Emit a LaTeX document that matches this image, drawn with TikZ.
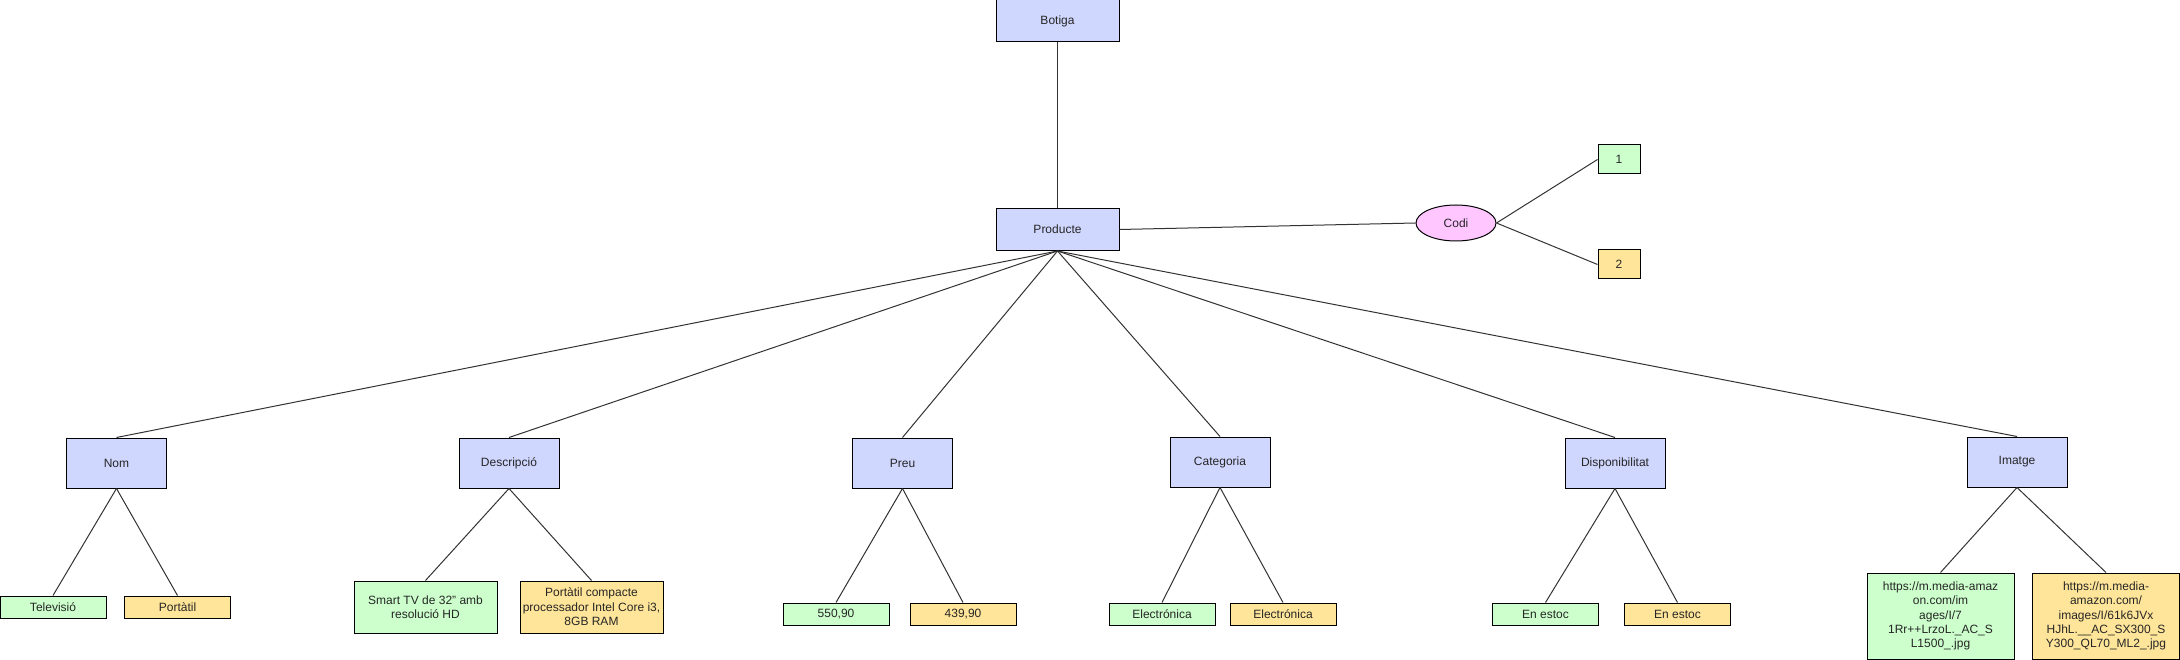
\documentclass[tikz,border=0pt]{standalone}
\usepackage{fontspec}
\setmainfont{Liberation Sans}
\usetikzlibrary{shapes.geometric}
\definecolor{entblue}{HTML}{D0D7FF}
\definecolor{valgreen}{HTML}{CCFFCC}
\definecolor{valyellow}{HTML}{FFE599}
\definecolor{attpink}{HTML}{FFC6FF}
\begin{document}
\begin{tikzpicture}[x=1pt,y=-1pt,
  every node/.style={font=\fontsize{12}{14.4}\selectfont, text=black!85},
  box/.style={draw, line width=1pt, inner sep=0pt, align=center},
  ent/.style={box, fill=entblue, minimum width=123pt, minimum height=42pt},
  attr/.style={box, fill=entblue, minimum width=100pt, minimum height=50pt},
  gval/.style={box, fill=valgreen, minimum width=106pt, minimum height=22pt},
  yval/.style={box, fill=valyellow, minimum width=106pt, minimum height=22pt},
  gbig/.style={box, fill=valgreen},
  ybig/.style={box, fill=valyellow},
  conn/.style={draw=black!80, line width=1pt}]
\useasboundingbox (0,0) rectangle (2180,660);
\fill[white] (0,0) rectangle (2180,660);
% entities
\node[ent] (botiga) at (1057.5,21) {Botiga};
\node[ent] (prod) at (1057.5,229.5) {Producte};
\node[ellipse, draw, line width=1pt, fill=attpink, minimum width=80pt, minimum height=36pt, inner sep=0pt] (codi) at (1456,223) {Codi};
\node[box, fill=valgreen, minimum width=42pt, minimum height=29pt] (one) at (1619,159.5) {1};
\node[box, fill=valyellow, minimum width=42pt, minimum height=29pt] (two) at (1619,264.5) {2};
% attributes
\node[attr] (nom) at (116.5,463) {Nom};
\node[attr] (desc) at (509,463) {Descripció};
\node[attr] (preu) at (902.5,463) {Preu};
\node[attr] (cat) at (1220,462) {Categoria};
\node[attr] (disp) at (1615,463) {Disponibilitat};
\node[attr] (img) at (2017,462) {Imatge};
% values
\node[gval] (tv) at (53,607) {Televisió};
\node[yval] (port) at (177.5,607) {Portàtil};
\node[gbig, minimum width=143pt, minimum height=52pt] (desca) at (425.5,607) {Smart TV de 32" amb\\resolució HD};
\node[ybig, minimum width=143pt, minimum height=52pt] (descb) at (591.5,607) {Portàtil compacte\\processador Intel Core i3,\\8GB RAM};
\node[gval] (pa) at (836,614) {550,90};
\node[yval] (pb) at (963,614) {439,90};
\node[gval] (ca) at (1162,614) {Electrónica};
\node[yval] (cb) at (1283,614) {Electrónica};
\node[gval] (da) at (1545.5,614) {En estoc};
\node[yval] (db) at (1677.5,614) {En estoc};
\node[gbig, minimum width=147pt, minimum height=86pt] (ia) at (1940.5,616) {https://m.media-amaz\\on.com/im\\ages/I/7\\1Rr++LrzoL.\_AC\_S\\L1500\_.jpg};
\node[ybig, minimum width=147pt, minimum height=86pt] (ib) at (2106,616) {https://m.media-\\amazon.com/\\images/I/61k6JVx\\HJhL.\_\_AC\_SX300\_S\\Y300\_QL70\_ML2\_.jpg};
% connectors
\draw[conn] (botiga.south) -- (prod.north);
\draw[conn] (prod.east) -- (codi.west);
\draw[conn] (codi.east) -- (one.west);
\draw[conn] (codi.east) -- (two.west);
\foreach \a in {nom,desc,preu,cat,disp,img} {\draw[conn] (prod.south) -- (\a.north);}
\draw[conn] (nom.south) -- (tv.north);
\draw[conn] (nom.south) -- (port.north);
\draw[conn] (desc.south) -- (desca.north);
\draw[conn] (desc.south) -- (descb.north);
\draw[conn] (preu.south) -- (pa.north);
\draw[conn] (preu.south) -- (pb.north);
\draw[conn] (cat.south) -- (ca.north);
\draw[conn] (cat.south) -- (cb.north);
\draw[conn] (disp.south) -- (da.north);
\draw[conn] (disp.south) -- (db.north);
\draw[conn] (img.south) -- (ia.north);
\draw[conn] (img.south) -- (ib.north);
\end{tikzpicture}
\end{document}
